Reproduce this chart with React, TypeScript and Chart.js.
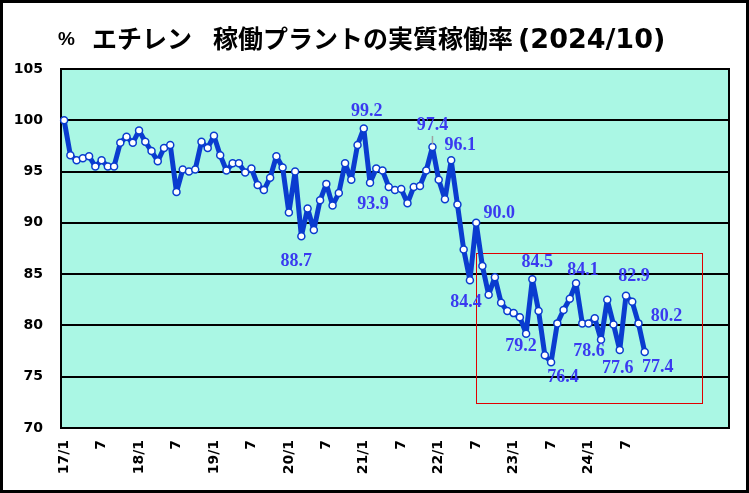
import { useEffect, useRef } from "react"
import { Chart, registerables, Plugin } from "chart.js"

Chart.register(...registerables)

// monthly real operating rate (%), 2017/1 .. 2024/10
const V2017 = [100.0, 96.6, 96.1, 96.3, 96.5, 95.5, 96.1, 95.5, 95.5, 97.8, 98.4, 97.8]
const V2018 = [99.0, 97.9, 97.0, 96.0, 97.3, 97.6, 93.0, 95.2, 95.0, 95.2, 97.9, 97.3]
const V2019 = [98.5, 96.6, 95.1, 95.8, 95.8, 94.9, 95.3, 93.7, 93.2, 94.4, 96.5, 95.4]
const V2020 = [91.0, 95.0, 88.7, 91.4, 89.3, 92.2, 93.8, 91.7, 92.9, 95.8, 94.2, 97.6]
const V2021 = [99.2, 93.9, 95.3, 95.1, 93.5, 93.2, 93.3, 91.9, 93.5, 93.6, 95.1, 97.4]
const V2022 = [94.2, 92.3, 96.1, 91.8, 87.4, 84.4, 90.0, 85.8, 83.0, 84.7, 82.2, 81.4]
const V2023 = [81.2, 80.8, 79.2, 84.5, 81.4, 77.1, 76.4, 80.2, 81.5, 82.6, 84.1, 80.2]
const V2024 = [80.2, 80.7, 78.6, 82.5, 80.1, 77.6, 82.9, 82.3, 80.2, 77.4]

const VALUES = [...V2017, ...V2018, ...V2019, ...V2020, ...V2021, ...V2022, ...V2023, ...V2024]

// axis has room for months up to 2025/11
const FIRST_YEAR = 2017
const SLOT_COUNT = 107
const CATEGORIES = Array.from({ length: SLOT_COUNT }, (_, i) => `${FIRST_YEAR + Math.floor(i / 12)}/${(i % 12) + 1}`)

// shown every 6 months
const TICK_TEXT = ["17/1", "7", "18/1", "7", "19/1", "7", "20/1", "7", "21/1", "7", "22/1", "7", "23/1", "7", "24/1", "7"]

const Y_TICKS = [70, 75, 80, 85, 90, 95, 100, 105]

// points whose value is written next to them, with label offset in px
const LABELLED: Array<[number, number, number]> = [
  [38, -5, 25],
  [48, 3, -17],
  [49, 3, 21],
  [59, 0, -22],
  [62, 9, -15],
  [65, -4, 22],
  [66, 23, -10],
  [74, -5, 13],
  [75, 5, -17],
  [78, 12, 15],
  [82, 7, -13],
  [86, -12, 12],
  [89, -2, 18],
  [90, 8, -19],
  [92, 28, -7],
  [93, 13, 15],
]

// red highlight box (category index / % units)
const BOX_FROM = 66
const BOX_TO = 102.2
const BOX_TOP = 87.1
const BOX_BOTTOM = 72.5

const LINE_COLOR = "#0a3ccf"
const LABEL_COLOR = "#3a3af0"
const PLOT_BG = "#aaf7e4"

const decorPlugin: Plugin<"line"> = {
  id: "decor",
  beforeDraw(chart) {
    const { ctx, chartArea: a, width, height } = chart
    ctx.save()
    ctx.fillStyle = "#ffffff"
    ctx.fillRect(0, 0, width, height)
    ctx.fillStyle = PLOT_BG
    ctx.fillRect(a.left, a.top, a.right - a.left, a.bottom - a.top)
    ctx.strokeStyle = "#000000"
    ctx.lineWidth = 3
    ctx.strokeRect(1.5, 1.5, width - 3, height - 3)
    ctx.restore()
  },
  beforeDatasetsDraw(chart) {
    const { ctx, chartArea: a, scales } = chart
    const x = scales.x
    const y = scales.y
    ctx.save()
    const x0 = x.getPixelForValue(BOX_FROM)
    const x1 = x.getPixelForValue(BOX_TO)
    const y0 = y.getPixelForValue(BOX_TOP)
    const y1 = y.getPixelForValue(BOX_BOTTOM)
    ctx.strokeStyle = "#e00000"
    ctx.lineWidth = 1
    ctx.strokeRect(Math.round(x0) + 0.5, Math.round(y0) + 0.5, Math.round(x1 - x0), Math.round(y1 - y0))
    ctx.strokeStyle = "#000000"
    ctx.lineWidth = 2
    ctx.strokeRect(a.left, a.top, a.right - a.left, a.bottom - a.top)
    ctx.restore()
  },
  afterDatasetsDraw(chart) {
    const { ctx } = chart
    const meta = chart.getDatasetMeta(0)
    ctx.save()
    ctx.font = 'bold 18px "Liberation Serif", "Times New Roman", serif'
    ctx.fillStyle = LABEL_COLOR
    ctx.textAlign = "center"
    ctx.textBaseline = "middle"
    LABELLED.forEach(([i, dx, dy]) => {
      const pt = meta.data[i]
      if (!pt) return
      if (i === 59) {
        ctx.strokeStyle = "#a0a0a0"
        ctx.lineWidth = 1.5
        ctx.beginPath()
        ctx.moveTo(pt.x, pt.y - 3)
        ctx.lineTo(pt.x, pt.y - 11)
        ctx.stroke()
      }
      ctx.fillText(VALUES[i].toFixed(1), pt.x + dx, pt.y + dy)
    })
    ctx.restore()
  },
  afterDraw(chart) {
    const { ctx } = chart
    ctx.save()
    ctx.fillStyle = "#000000"
    ctx.textBaseline = "alphabetic"
    ctx.textAlign = "left"
    ctx.font = 'bold 19px "Liberation Sans", Arial, sans-serif'
    ctx.fillText("%", 58, 45)
    ctx.font = 'bold 25px "DejaVu Sans", "Noto Sans CJK JP", sans-serif'
    ctx.fillText("エチレン", 92, 48)
    ctx.fillText("稼働プラントの実質稼働率", 213, 48)
    ctx.font = 'bold 27px "DejaVu Sans", "Noto Sans CJK JP", sans-serif'
    ctx.fillText("(2024/10)", 518, 48)
    ctx.restore()
  },
}

const App = () => {
  const chartRef = useRef<HTMLCanvasElement>(null)
  const chartInstance = useRef<Chart<"line"> | null>(null)

  useEffect(() => {
    if (chartRef.current) {
      const ctx = chartRef.current.getContext("2d")

      if (ctx) {
        if (chartInstance.current) {
          chartInstance.current.destroy()
        }

        chartInstance.current = new Chart(ctx, {
          type: "line",
          data: {
            labels: CATEGORIES,
            datasets: [{
              label: "実質稼働率",
              data: VALUES,
              borderColor: LINE_COLOR,
              borderWidth: 5,
              borderJoinStyle: "round",
              borderCapStyle: "round",
              tension: 0,
              pointRadius: 3.5,
              pointBorderWidth: 1.5,
              pointBackgroundColor: "#ffffff",
              pointBorderColor: LINE_COLOR,
            }]
          },
          options: {
            animation: false,
            responsive: true,
            maintainAspectRatio: false,
            layout: {
              padding: { top: 69, right: 20, left: 0, bottom: 0 }
            },
            scales: {
              x: {
                type: "category",
                offset: true,
                grid: { display: false, drawTicks: false },
                border: { display: false },
                afterFit: (scale) => {
                  scale.height = 65
                  scale.paddingLeft = 0
                  scale.paddingRight = 0
                },
                ticks: {
                  autoSkip: false,
                  maxRotation: 90,
                  minRotation: 90,
                  padding: 12,
                  color: "#000000",
                  font: { family: '"DejaVu Sans", sans-serif', size: 14, weight: "bold" },
                  callback: (_v, i) => (i % 6 === 0 && TICK_TEXT[i / 6]) ? TICK_TEXT[i / 6] : ""
                }
              },
              y: {
                min: 70,
                max: 105,
                afterFit: (scale) => {
                  scale.width = 61
                  scale.paddingTop = 0
                  scale.paddingBottom = 0
                },
                afterBuildTicks: (scale) => { scale.ticks = Y_TICKS.map(v => ({ value: v })) },
                grid: { color: "#000000", lineWidth: 2, drawTicks: false },
                border: { display: false },
                ticks: {
                  padding: 18,
                  color: "#000000",
                  font: { family: '"DejaVu Sans", sans-serif', size: 14, weight: "bold" }
                }
              }
            },
            plugins: {
              legend: { display: false },
              title: { display: false },
              tooltip: { enabled: false }
            }
          },
          plugins: [decorPlugin]
        })
      }
    }

    return () => {
      if (chartInstance.current) {
        chartInstance.current.destroy()
        chartInstance.current = null
      }
    }
  }, [])

  return (
    <div style={{ position: "absolute", left: 0, top: 0, width: 749, height: 493 }}>
      <canvas ref={chartRef}></canvas>
    </div>
  )
}

export default App
